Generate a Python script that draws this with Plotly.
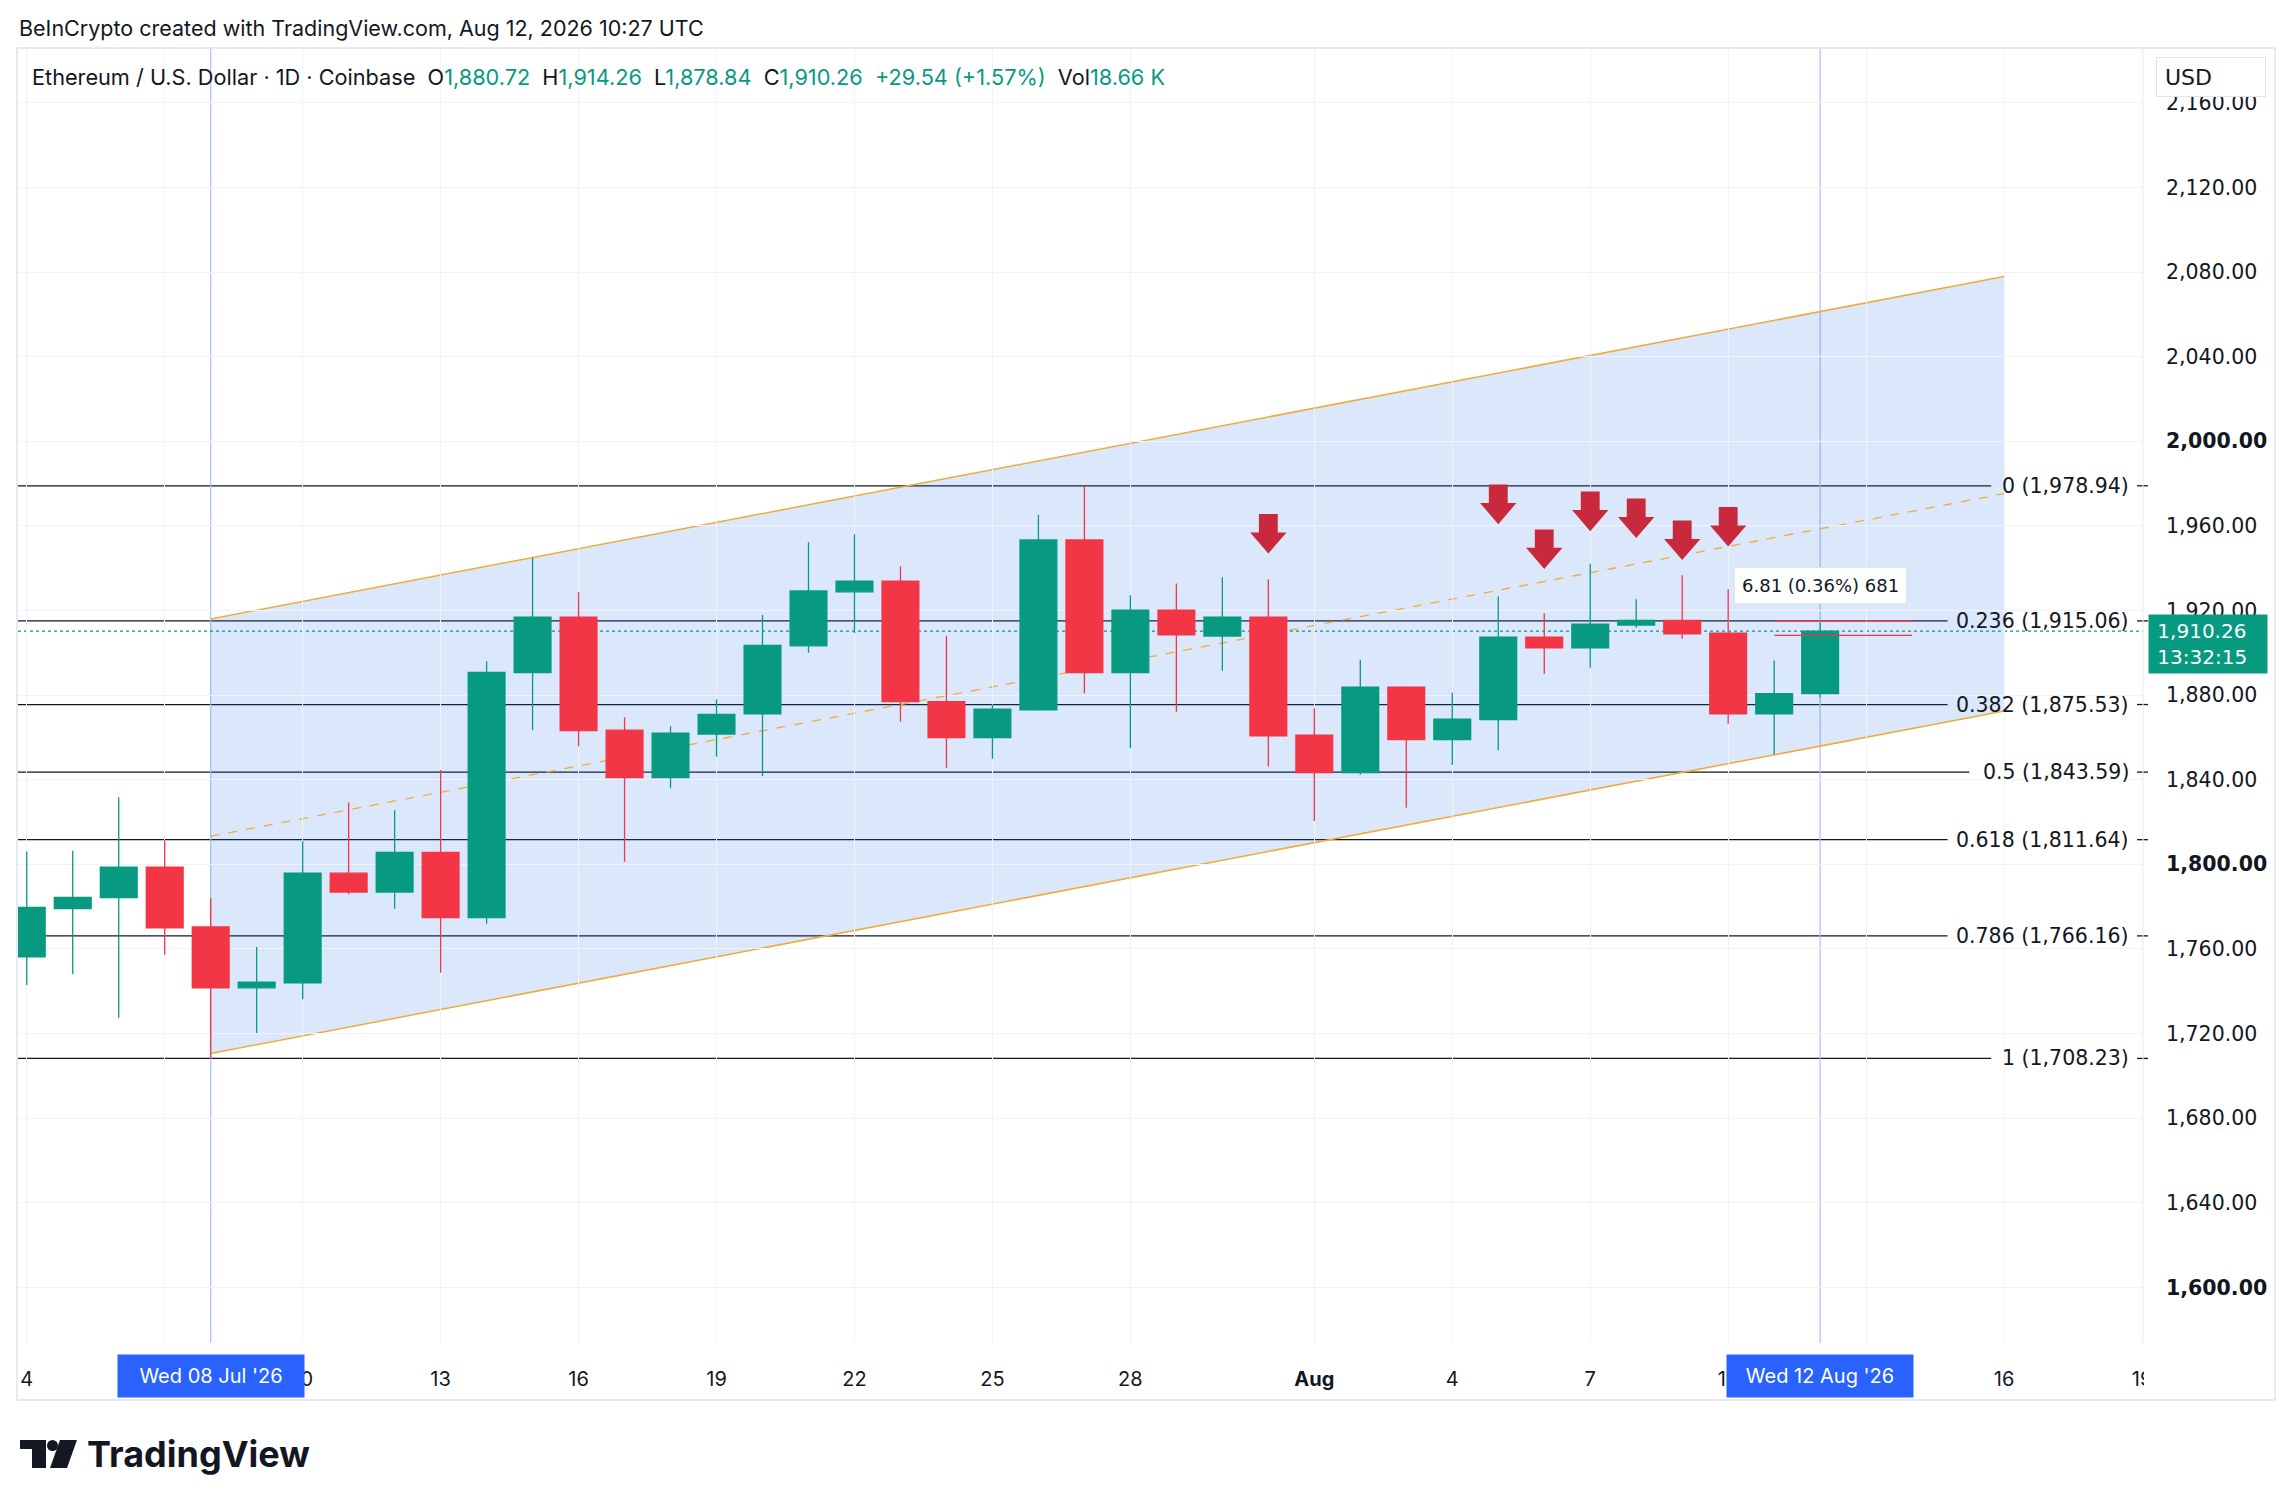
import pandas as pd
import plotly.graph_objects as go

# ---- data ----
dates = pd.date_range("2026-07-04", "2026-08-12", freq="D")
opens = [1756.3, 1779.0, 1784.3, 1798.7, 1770.4, 1741.6, 1743.9, 1795.8, 1786.9, 1805.6,
         1774.8, 1890.6, 1916.8, 1863.4, 1841.0, 1861.6, 1871.1, 1903.3, 1928.8, 1933.8,
         1876.9, 1859.9, 1873.0, 1953.3, 1890.6, 1920.1, 1907.9, 1916.8, 1861.0, 1843.3,
         1883.8, 1858.9, 1868.4, 1907.4, 1902.3, 1913.1, 1915.3, 1909.3, 1871.1, 1880.72]
highs = [1806.0, 1806.4, 1831.7, 1811.4, 1783.9, 1760.9, 1810.9, 1829.2, 1825.5, 1844.6,
         1896.0, 1944.9, 1928.6, 1869.5, 1865.3, 1878.0, 1917.8, 1952.3, 1956.0, 1940.9,
         1908.1, 1875.5, 1965.2, 1978.94, 1927.2, 1932.8, 1935.7, 1934.8, 1873.8, 1896.7,
         1884.2, 1881.1, 1926.6, 1918.7, 1942.1, 1925.3, 1936.7, 1930.1, 1896.4, 1914.26]
lows = [1742.9, 1748.2, 1727.5, 1757.2, 1708.23, 1720.2, 1736.2, 1785.8, 1779.0, 1748.7,
        1771.9, 1863.5, 1855.8, 1801.2, 1835.9, 1850.8, 1841.7, 1900.0, 1909.3, 1867.4,
        1845.6, 1849.9, 1872.6, 1880.9, 1854.9, 1872.0, 1891.5, 1846.2, 1820.5, 1842.3,
        1826.7, 1846.9, 1853.9, 1890.0, 1892.9, 1911.8, 1906.6, 1866.4, 1851.9, 1878.84]
closes = [1779.6, 1784.3, 1798.7, 1770.0, 1741.6, 1744.3, 1795.8, 1786.9, 1805.6, 1774.8,
          1890.7, 1916.8, 1863.2, 1841.0, 1862.0, 1870.9, 1903.5, 1929.2, 1933.8, 1876.9,
          1859.9, 1873.4, 1953.3, 1890.6, 1920.1, 1908.5, 1916.8, 1860.7, 1843.3, 1883.8,
          1858.9, 1868.6, 1907.4, 1902.3, 1913.5, 1915.3, 1908.9, 1871.1, 1880.72, 1910.26]
volume_text = "18.66 K"
countdown = "13:32:15"

fib_levels = ["0", "0.236", "0.382", "0.5", "0.618", "0.786", "1"]
fib_prices = [1978.94, 1915.06, 1875.53, 1843.59, 1811.64, 1766.16, 1708.23]

channel_dates = ["2026-07-08", "2026-08-16"]
channel_upper = [1916.0, 2077.9]
channel_lower = [1710.6, 1872.5]

arrow_dates = ["2026-07-31", "2026-08-05", "2026-08-06", "2026-08-07",
               "2026-08-08", "2026-08-09", "2026-08-10"]
arrow_tips = [1946.9, 1960.8, 1939.6, 1957.5, 1954.2, 1943.8, 1950.2]

measure_dates = ["2026-08-11", "2026-08-14"]
measure_prices = [1915.06, 1908.25]
measure_text = "6.81 (0.36%) 681"
measure_label_y = 1931.6

crosshair_dates = ["2026-07-08", "2026-08-12"]
crosshair_text = ["Wed 08 Jul '26", "Wed 12 Aug '26"]

price_ticks = [1600, 1640, 1680, 1720, 1760, 1800, 1840, 1880, 1920, 1960, 2000, 2040, 2080, 2120, 2160]
time_ticks = ["2026-07-04", "2026-07-07", "2026-07-10", "2026-07-13", "2026-07-16", "2026-07-19",
              "2026-07-22", "2026-07-25", "2026-07-28", "2026-08-01", "2026-08-04", "2026-08-07",
              "2026-08-10", "2026-08-13", "2026-08-16", "2026-08-19"]
# labels under the two date boxes are hidden in the reference
time_labels = ["4", "", "10", "13", "16", "19", "22", "25", "28", "<b>Aug</b>",
               "4", "7", "10", "", "16", "19"]

# ---- styling ----
# page coordinates; the html body adds an 8px margin around the figure
PAGE_W, PAGE_H, OFF = 2294, 1509, 8
W, H = PAGE_W - 2 * OFF, PAGE_H - 2 * OFF
L, R, T, B = 18, 2143, 48, 1343
GREEN = "#089981"
RED = "#F23645"
INK = "#131722"
GRID = "#f0f3fa"
ORANGE = "#F2AA3C"
UI = "Inter"
NUM = "DejaVu Sans"


def px(x):
    return (x - L) / (R - L)


def py(y):
    return (B - y) / (B - T)


fig = go.Figure()

# measure lines
mx, my = [], []
for p in measure_prices:
    mx += [measure_dates[0], measure_dates[1], None]
    my += [p, p, None]
fig.add_trace(go.Scatter(x=mx, y=my, mode="lines", line=dict(color=RED, width=1.3),
                         hoverinfo="skip", showlegend=False))

fig.add_trace(go.Candlestick(
    x=dates, open=opens, high=highs, low=lows, close=closes,
    increasing=dict(line=dict(color=GREEN, width=1.3), fillcolor=GREEN),
    decreasing=dict(line=dict(color=RED, width=1.3), fillcolor=RED),
    whiskerwidth=0, hoverinfo="skip", showlegend=False))

# block arrows
shaft = pd.Timedelta(days=0.205)
head = pd.Timedelta(days=0.395)
ax, ay = [], []
for d, t in zip(arrow_dates, arrow_tips):
    d = pd.Timestamp(d)
    ax += [d - shaft, d + shaft, d + shaft, d + head, d, d - head, d - shaft, d - shaft, None]
    ay += [t + 18.7, t + 18.7, t + 10, t + 10, t, t + 10, t + 10, t + 18.7, None]
fig.add_trace(go.Scatter(x=ax, y=ay, fill="toself", fillcolor="#C8293C", mode="lines",
                         line=dict(width=0, color="#C8293C"),
                         hoverinfo="skip", showlegend=False))

shapes = []
annotations = []

# parallel channel (kept under the candles)
d0, d1 = channel_dates
chan_path = (f"M {d0},{channel_upper[0]} L {d1},{channel_upper[1]} "
             f"L {d1},{channel_lower[1]} L {d0},{channel_lower[0]} Z")
shapes.append(dict(type="path", xref="x", yref="y", path=chan_path,
                   fillcolor="rgba(30,111,230,0.16)", line=dict(width=0), layer="below"))
for ys in (channel_upper, channel_lower):
    shapes.append(dict(type="line", xref="x", yref="y", x0=d0, x1=d1, y0=ys[0], y1=ys[1],
                       line=dict(color=ORANGE, width=1.5), layer="below"))
mid = [(u + l) / 2 for u, l in zip(channel_upper, channel_lower)]
shapes.append(dict(type="line", xref="x", yref="y", x0=d0, x1=d1, y0=mid[0], y1=mid[1],
                   line=dict(color=ORANGE, width=1.3, dash="dash"), layer="below"))

# fib levels
for lvl, p in zip(fib_levels, fib_prices):
    label = f"{lvl} ({p:,.2f})"
    end = 2130 - 10.9 * len(label) - 8
    shapes.append(dict(type="line", xref="paper", yref="y", x0=0, x1=px(end), y0=p, y1=p,
                       line=dict(color=INK, width=1.3), layer="below"))
    shapes.append(dict(type="line", xref="paper", yref="y", x0=px(2137), x1=px(2148), y0=p, y1=p,
                       line=dict(color=INK, width=1.3)))
    annotations.append(dict(xref="paper", yref="y", x=px(2131), y=p, text=label,
                            xanchor="right", yanchor="middle", showarrow=False,
                            font=dict(family=NUM, size=20.5, color=INK)))

# crosshair + last price line
for d in crosshair_dates:
    shapes.append(dict(type="line", xref="x", yref="paper", x0=d, x1=d, y0=0, y1=1,
                       line=dict(color="#a9c0ef", width=1.2), layer="below"))
shapes.append(dict(type="line", xref="paper", yref="y", x0=0, x1=1,
                   y0=closes[-1], y1=closes[-1], line=dict(color=GREEN, width=1.2, dash="dot"),
                   layer="below"))

# pane frame
shapes.append(dict(type="rect", xref="paper", yref="paper", x0=px(17), x1=px(2275),
                   y0=py(1400), y1=py(48), line=dict(color="#e0e3eb", width=1.5)))
shapes.append(dict(type="line", xref="paper", yref="paper", x0=1, x1=1, y0=py(1343), y1=py(48),
                   line=dict(color="#e9ecf2", width=1.2)))
# clip the time-scale under the price scale
shapes.append(dict(type="rect", xref="paper", yref="paper", x0=px(2144), x1=px(2274),
                   y0=py(1399), y1=py(1345), fillcolor="white", line=dict(width=0), layer="above"))

# TradingView logo mark
shapes.append(dict(type="rect", xref="paper", yref="paper", x0=px(20), x1=px(46),
                   y0=py(1449), y1=py(1440), fillcolor=INK, line=dict(width=0)))
shapes.append(dict(type="rect", xref="paper", yref="paper", x0=px(32), x1=px(46),
                   y0=py(1468), y1=py(1440), fillcolor=INK, line=dict(width=0)))
shapes.append(dict(type="circle", xref="paper", yref="paper", x0=px(47), x1=px(58),
                   y0=py(1451), y1=py(1440), fillcolor=INK, line=dict(width=0)))
slash = [(60, 1440), (77, 1440), (67, 1468), (50, 1468)]
path = "M " + " L ".join(f"{px(a)},{py(b)}" for a, b in slash) + " Z"
shapes.append(dict(type="path", xref="paper", yref="paper", path=path,
                   fillcolor=INK, line=dict(width=0)))

# header + legend line
annotations.append(dict(xref="paper", yref="paper", x=px(17), y=py(28), xanchor="left",
                        yanchor="middle", showarrow=False,
                        text="BeInCrypto created with TradingView.com, Aug 12, 2026 10:27 UTC",
                        font=dict(family=UI, size=21.5, color=INK)))
chg = closes[-1] - opens[-1]
pct = chg / opens[-1] * 100


def g(v):
    return f"<span style='color:{GREEN}'>{v}</span>"


legend = ("Ethereum / U.S. Dollar · 1D · Coinbase&nbsp;&nbsp;"
          f"O{g(f'{opens[-1]:,.2f}')}&nbsp;&nbsp;H{g(f'{highs[-1]:,.2f}')}&nbsp;&nbsp;"
          f"L{g(f'{lows[-1]:,.2f}')}&nbsp;&nbsp;C{g(f'{closes[-1]:,.2f}')}&nbsp;&nbsp;"
          f"{g(f'+{chg:.2f} (+{pct:.2f}%)')}&nbsp;&nbsp;Vol{g(volume_text)}")
annotations.append(dict(xref="paper", yref="paper", x=px(30), y=py(77), xanchor="left",
                        yanchor="middle", showarrow=False, text=legend,
                        font=dict(family=UI, size=21.7, color=INK)))

# measure tooltip
annotations.append(dict(xref="x", yref="y", x="2026-08-12", y=measure_label_y, text=measure_text,
                        showarrow=False, yanchor="middle", bgcolor="white", bordercolor="#e0e3eb",
                        borderwidth=1, borderpad=7, font=dict(family=NUM, size=18, color=INK)))

# date labels on time axis
for d, t in zip(crosshair_dates, crosshair_text):
    annotations.append(dict(xref="x", yref="paper", x=d, y=py(1376), yanchor="middle",
                            text=t, showarrow=False,
                            bgcolor="#2962FF", width=180, height=36, borderpad=3,
                            font=dict(family=UI, size=20, color="white")))

# USD box and last price box on the price axis
annotations.append(dict(xref="paper", yref="paper", x=px(2156), y=py(77), xanchor="left",
                        yanchor="middle", text="&nbsp;USD", showarrow=False, align="left",
                        bgcolor="white", bordercolor="#e0e3eb", borderwidth=1, width=106, height=36,
                        font=dict(family=NUM, size=22, color=INK)))
annotations.append(dict(xref="paper", yref="y", x=px(2148), y=closes[-1], xanchor="left",
                        yanchor="middle", yshift=-13, showarrow=False, align="left",
                        text=f"&nbsp;{closes[-1]:,.2f}<br>&nbsp;{countdown}",
                        bgcolor=GREEN, width=114, height=54, borderpad=2,
                        font=dict(family=NUM, size=20, color="white")))

# TradingView wordmark
annotations.append(dict(xref="paper", yref="paper", x=px(85), y=py(1454), xanchor="left",
                        yanchor="middle", showarrow=False, text="<b>TradingView</b>",
                        font=dict(family=UI, size=36, color=INK)))

price_text = [f"<b>{v:,.2f}</b>" if v % 200 == 0 else f"{v:,.2f}" for v in price_ticks]

fig.update_layout(
    width=W, height=H,
    margin=dict(l=L - OFF, r=(PAGE_W - OFF) - R, t=T - OFF, b=(PAGE_H - OFF) - B),
    paper_bgcolor="white", plot_bgcolor="white",
    boxgap=0.2, boxgroupgap=0,
    showlegend=False,
    shapes=shapes, annotations=annotations,
    xaxis=dict(type="date", range=["2026-07-03 19:26", "2026-08-19 00:30"],
               tickvals=time_ticks, ticktext=time_labels, showgrid=True, gridcolor=GRID,
               gridwidth=1, zeroline=False, showline=False, ticks="",
               ticklabelstandoff=22, rangeslider=dict(visible=False),
               tickfont=dict(family=UI, size=20, color=INK), fixedrange=True),
    yaxis=dict(range=[1573.7, 2185.9], side="right", tickvals=price_ticks, ticktext=price_text,
               showgrid=True, gridcolor=GRID, gridwidth=1, zeroline=False, showline=False,
               ticks="", ticklabelstandoff=22,
               tickfont=dict(family=NUM, size=20.5, color=INK), fixedrange=True),
)

fig.write_html("out.html")
